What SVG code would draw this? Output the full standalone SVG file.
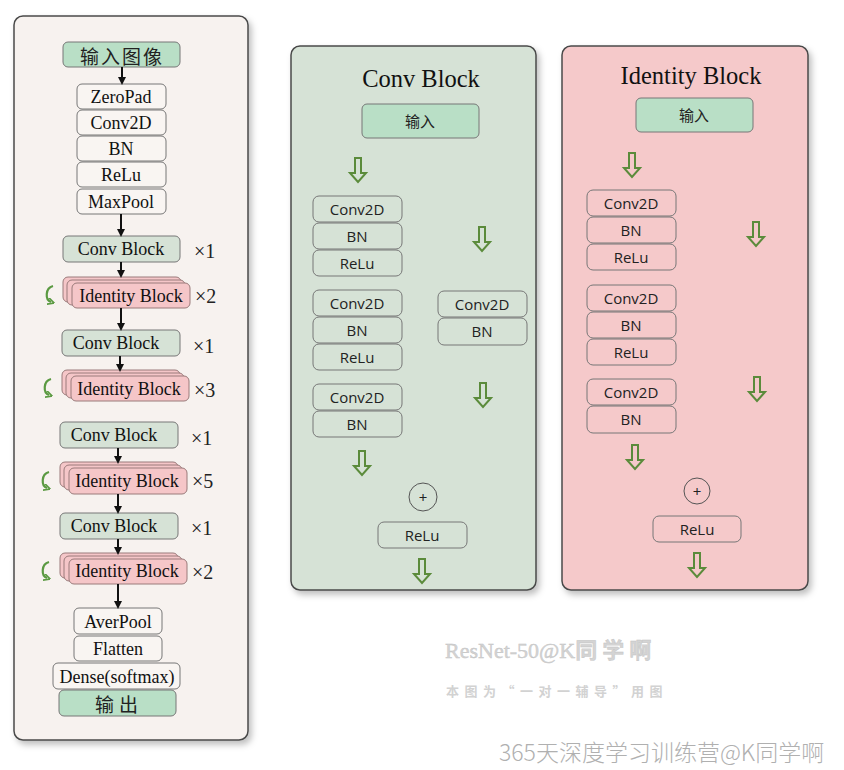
<svg xmlns="http://www.w3.org/2000/svg" width="844" height="770" viewBox="0 0 844 770">
<defs>
<style>
.panel{stroke:#4a4a4a;stroke-width:1.5}
.box{fill:#f9f5f2;stroke:#777;stroke-width:1}
.green{fill:#b9dfc6;stroke:#777;stroke-width:1}
.conv{fill:#d6e2d6;stroke:#777;stroke-width:1}
.idb{fill:#f5c6c8;stroke:#9a7a7a;stroke-width:1}
.st{font-family:"Liberation Serif","Noto Sans CJK SC",serif;font-size:18px;fill:#111;text-anchor:middle;dominant-baseline:central}
.cjk{font-family:"Noto Sans CJK SC",sans-serif;font-size:19px;fill:#222;text-anchor:middle;dominant-baseline:central}
.ss{font-family:"Open Sans","Noto Sans","Noto Sans CJK SC",sans-serif;font-size:15px;fill:#222;text-anchor:middle;dominant-baseline:central}
.mul{font-family:"Liberation Serif",serif;font-size:20px;fill:#222;dominant-baseline:central}
.title{font-family:"Liberation Serif",serif;font-size:24.5px;fill:#111;text-anchor:middle}
.blk{stroke:#111;stroke-width:2;fill:none;marker-end:url(#ah)}
.sbox{fill:none;stroke:#777;stroke-width:1}
.harrow{fill:none;stroke:#5b8b3b;stroke-width:2;stroke-linejoin:miter}
.curl{fill:none;stroke:#5b9a42;stroke-width:2.2}
</style>
<marker id="ah" markerWidth="8" markerHeight="8" refX="5" refY="4" orient="auto" markerUnits="userSpaceOnUse" viewBox="0 0 8 8"><path d="M0,0 L8,4 L0,8 z" fill="#111"/></marker>
<marker id="gh" markerWidth="7" markerHeight="7" refX="3.5" refY="3.5" orient="auto" markerUnits="userSpaceOnUse" viewBox="0 0 7 7"><path d="M0,0 L7,3.5 L0,7" fill="none" stroke="#5b9a42" stroke-width="1.6"/></marker>
<path id="ha" class="harrow" d="M-3,0 L3,0 L3,15 L8,15 L0,24 L-8,15 L-3,15 Z"/>
<path id="curl" class="curl" d="M4,-8 C-4,-6 -4,6 2,8" marker-end="url(#gh)"/>
<filter id="sh" x="-5%" y="-5%" width="115%" height="115%"><feDropShadow dx="3" dy="4" stdDeviation="3" flood-color="#000" flood-opacity="0.25"/></filter>
</defs>
<rect width="844" height="770" fill="#ffffff"/>

<!-- Left panel -->
<g id="left-panel">
<rect class="panel" x="14" y="16" width="234" height="724" rx="9" fill="#f7f2ef" filter="url(#sh)"/>
</g>

<g id="input-img"><rect class="green" x="63" y="42" width="117" height="25" rx="5"/><text class="cjk" x="122" y="55" letter-spacing="2">输入图像</text></g>
<g id="zeropad"><rect class="box" x="77" y="84" width="89" height="25" rx="5"/><text class="st" x="121" y="97">ZeroPad</text></g>
<g id="conv2d-0"><rect class="box" x="77" y="110" width="89" height="25" rx="5"/><text class="st" x="121" y="123">Conv2D</text></g>
<g id="bn-0"><rect class="box" x="77" y="136" width="89" height="25" rx="5"/><text class="st" x="121" y="149">BN</text></g>
<g id="relu-0"><rect class="box" x="77" y="162" width="89" height="25" rx="5"/><text class="st" x="121" y="175">ReLu</text></g>
<g id="maxpool"><rect class="box" x="77" y="189" width="89" height="25" rx="5"/><text class="st" x="121" y="202">MaxPool</text></g>

<g id="convblock-1"><rect class="conv" x="63" y="236" width="117" height="26" rx="5"/><text class="st" x="121" y="249" font-size="16">Conv Block</text><text class="mul" x="194" y="251">×1</text></g>
<g id="idblock-1">
<rect class="idb" x="63" y="277" width="118" height="25" rx="5"/>
<rect class="idb" x="67" y="280" width="118" height="25" rx="5"/>
<rect class="idb" x="72" y="283" width="118" height="25" rx="5"/>
<text class="st" x="131" y="296" font-size="16">Identity Block</text><text class="mul" x="195" y="296">×2</text>
<use href="#curl" x="49" y="294"/>
</g>
<g id="convblock-2"><rect class="conv" x="62" y="330" width="118" height="26" rx="5"/><text class="st" x="116" y="343" font-size="19">Conv Block</text><text class="mul" x="193" y="346">×1</text></g>
<g id="idblock-2">
<rect class="idb" x="62" y="370" width="118" height="25" rx="5"/>
<rect class="idb" x="66" y="373" width="118" height="25" rx="5"/>
<rect class="idb" x="71" y="376" width="118" height="25" rx="5"/>
<text class="st" x="129" y="389" font-size="16">Identity Block</text><text class="mul" x="194" y="390">×3</text>
<use href="#curl" x="47" y="387"/>
</g>
<g id="convblock-3"><rect class="conv" x="60" y="422" width="118" height="26" rx="5"/><text class="st" x="114" y="435" font-size="19">Conv Block</text><text class="mul" x="191" y="438">×1</text></g>
<g id="idblock-3">
<rect class="idb" x="60" y="462" width="118" height="25" rx="5"/>
<rect class="idb" x="64" y="465" width="118" height="25" rx="5"/>
<rect class="idb" x="69" y="468" width="118" height="26" rx="5"/>
<text class="st" x="127" y="481" font-size="16">Identity Block</text><text class="mul" x="192" y="481">×5</text>
<use href="#curl" x="45" y="480"/>
</g>
<g id="convblock-4"><rect class="conv" x="60" y="513" width="118" height="26" rx="5"/><text class="st" x="114" y="526" font-size="19">Conv Block</text><text class="mul" x="191" y="528">×1</text></g>
<g id="idblock-4">
<rect class="idb" x="60" y="553" width="118" height="25" rx="5"/>
<rect class="idb" x="64" y="556" width="118" height="25" rx="5"/>
<rect class="idb" x="69" y="559" width="118" height="25" rx="5"/>
<text class="st" x="127" y="571" font-size="16">Identity Block</text><text class="mul" x="192" y="572">×2</text>
<use href="#curl" x="45" y="570"/>
</g>
<g id="averpool"><rect class="box" x="74" y="608" width="88" height="26" rx="5"/><text class="st" x="118" y="622" font-size="19.5">AverPool</text></g>
<g id="flatten"><rect class="box" x="74" y="636" width="88" height="25" rx="5"/><text class="st" x="118" y="649" font-size="19.5">Flatten</text></g>
<g id="dense"><rect class="box" x="53" y="663" width="127" height="26" rx="5"/><text class="st" x="117" y="677" font-size="19.5">Dense(softmax)</text></g>
<g id="output"><rect class="green" x="59" y="690" width="117" height="26" rx="5"/><text class="cjk" x="119" y="703" letter-spacing="5">输出</text></g>

<g id="left-connectors">
<line class="blk" x1="122" y1="67" x2="122" y2="82"/>
<line class="blk" x1="121" y1="214" x2="121" y2="234"/>
<line class="blk" x1="121" y1="262" x2="121" y2="275"/>
<line class="blk" x1="121" y1="308" x2="121" y2="328"/>
<line class="blk" x1="120" y1="356" x2="120" y2="369"/>
<line class="blk" x1="118" y1="448" x2="118" y2="461"/>
<line class="blk" x1="118" y1="494" x2="118" y2="511"/>
<line class="blk" x1="118" y1="539" x2="118" y2="552"/>
<line class="blk" x1="118" y1="584" x2="118" y2="606" stroke-width="2.5"/>
</g>

<!-- Conv Block panel -->
<g id="conv-panel">
<rect class="panel" x="291" y="46" width="245" height="544" rx="9" fill="#d6e2d6" filter="url(#sh)"/>
<text class="title" x="421" y="87">Conv Block</text>
</g>
<g id="cb-input"><rect class="green" x="362" y="104" width="117" height="34" rx="5"/><text class="ss" x="420" y="121" font-size="13">输入</text></g>
<g id="cb-main1">
<rect class="sbox" x="313" y="196" width="89" height="26" rx="6"/><text class="ss" x="357" y="209">Conv2D</text>
<rect class="sbox" x="313" y="223" width="89" height="26" rx="6"/><text class="ss" x="357" y="236">BN</text>
<rect class="sbox" x="313" y="250" width="89" height="26" rx="6"/><text class="ss" x="357" y="263">ReLu</text>
</g>
<g id="cb-main2">
<rect class="sbox" x="313" y="290" width="89" height="26" rx="6"/><text class="ss" x="357" y="303">Conv2D</text>
<rect class="sbox" x="313" y="317" width="89" height="26" rx="6"/><text class="ss" x="357" y="330">BN</text>
<rect class="sbox" x="313" y="344" width="89" height="26" rx="6"/><text class="ss" x="357" y="357">ReLu</text>
</g>
<g id="cb-main3">
<rect class="sbox" x="313" y="384" width="89" height="26" rx="6"/><text class="ss" x="357" y="397">Conv2D</text>
<rect class="sbox" x="313" y="411" width="89" height="26" rx="6"/><text class="ss" x="357" y="424">BN</text>
</g>
<g id="cb-shortcut">
<rect class="sbox" x="438" y="291" width="89" height="26" rx="6"/><text class="ss" x="482" y="304">Conv2D</text>
<rect class="sbox" x="438" y="318" width="89" height="27" rx="6"/><text class="ss" x="482" y="331">BN</text>
</g>
<g id="cb-add"><circle cx="423" cy="497" r="14" fill="none" stroke="#555" stroke-width="1"/><text class="ss" x="423" y="497">+</text></g>
<g id="cb-relu"><rect class="sbox" x="378" y="522" width="89" height="26" rx="6"/><text class="ss" x="422" y="535">ReLu</text></g>

<!-- Identity Block panel -->
<g id="id-panel">
<rect class="panel" x="562" y="46" width="246" height="544" rx="9" fill="#f5c9ca" filter="url(#sh)"/>
<text class="title" x="691" y="84">Identity Block</text>
</g>
<g id="ib-input"><rect class="green" x="636" y="98" width="117" height="34" rx="5"/><text class="ss" x="694" y="115" font-size="13">输入</text></g>
<g id="ib-main1">
<rect class="sbox" x="587" y="190" width="89" height="26" rx="6"/><text class="ss" x="631" y="203">Conv2D</text>
<rect class="sbox" x="587" y="217" width="89" height="26" rx="6"/><text class="ss" x="631" y="230">BN</text>
<rect class="sbox" x="587" y="244" width="89" height="26" rx="6"/><text class="ss" x="631" y="257">ReLu</text>
</g>
<g id="ib-main2">
<rect class="sbox" x="587" y="285" width="89" height="26" rx="6"/><text class="ss" x="631" y="298">Conv2D</text>
<rect class="sbox" x="587" y="312" width="89" height="26" rx="6"/><text class="ss" x="631" y="325">BN</text>
<rect class="sbox" x="587" y="339" width="89" height="26" rx="6"/><text class="ss" x="631" y="352">ReLu</text>
</g>
<g id="ib-main3">
<rect class="sbox" x="587" y="379" width="89" height="26" rx="6"/><text class="ss" x="631" y="392">Conv2D</text>
<rect class="sbox" x="587" y="406" width="89" height="27" rx="6"/><text class="ss" x="631" y="419">BN</text>
</g>
<g id="ib-add"><circle cx="697" cy="491" r="13" fill="none" stroke="#555" stroke-width="1"/><text class="ss" x="697" y="491">+</text></g>
<g id="ib-relu"><rect class="sbox" x="653" y="516" width="88" height="26" rx="6"/><text class="ss" x="697" y="529">ReLu</text></g>

<g id="block-connectors">
<use href="#ha" x="358" y="158"/>
<use href="#ha" x="482" y="227"/>
<use href="#ha" x="483" y="383"/>
<use href="#ha" x="362" y="451"/>
<use href="#ha" x="422" y="559"/>
<use href="#ha" x="632" y="153"/>
<use href="#ha" x="756" y="222"/>
<use href="#ha" x="757" y="377"/>
<use href="#ha" x="635" y="445"/>
<use href="#ha" x="697" y="553"/>
</g>

<g id="watermarks">
<text x="445" y="658" font-family="Liberation Serif,Noto Sans CJK SC,serif" font-size="22" fill="#d4d4d4" stroke="#c2c2c2" stroke-width="0.4"><tspan>ResNet-50@K</tspan><tspan font-weight="bold" letter-spacing="5">同学啊</tspan></text>
<text x="446" y="696" font-family="Noto Sans CJK SC,sans-serif" font-size="13" font-weight="bold" fill="#d2d2d2" letter-spacing="5.5">本图为“一对一辅导”用图</text>
<text x="499" y="761" font-family="Noto Sans CJK SC,sans-serif" font-size="23" font-weight="300" fill="#b0b0b0">365天深度学习训练营@K同学啊</text>
</g>
</svg>
